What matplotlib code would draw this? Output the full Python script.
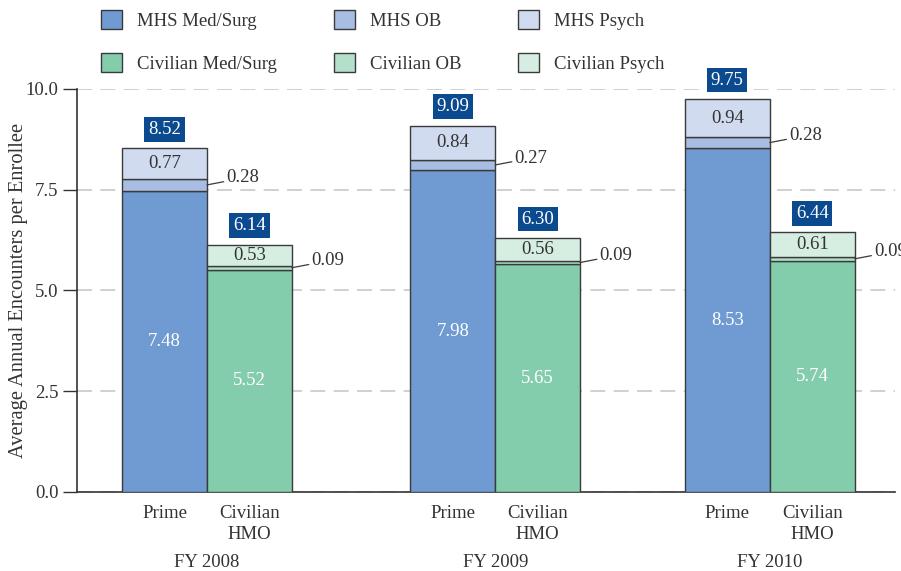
import numpy as np
import matplotlib
matplotlib.use('Agg')
import matplotlib.pyplot as plt
from matplotlib.patches import Patch

plt.rcParams['font.family'] = ['Liberation Serif', 'DejaVu Serif']

years = ['FY 2008', 'FY 2009', 'FY 2010']
mhs_medsurg = [7.48, 7.98, 8.53]
mhs_ob = [0.28, 0.27, 0.28]
mhs_psych = [0.77, 0.84, 0.94]
mhs_total = [8.52, 9.09, 9.75]
civ_medsurg = [5.52, 5.65, 5.74]
civ_ob = [0.09, 0.09, 0.09]
civ_psych = [0.53, 0.56, 0.61]
civ_total = [6.14, 6.30, 6.44]

mhs_colors = ['#6f9bd2', '#a8bde2', '#d0dbef']
civ_colors = ['#84cdac', '#b3e0ca', '#d6eee2']
box_color = '#0b4a8e'
txt = '#333333'
edge = '#3a3a3a'
fs = 13.5

fig = plt.figure(figsize=(9.01, 5.71), dpi=100)
ax = fig.add_axes([77 / 901, 1 - 492 / 571, 818 / 901, 403 / 571])

centers = np.array([1.53, 4.92, 8.15])
w = 1.0
prime_x = centers - 0.5
civ_x = centers + 0.5


def stack(x, med, ob, psych, total, colors):
    ax.bar(x, med, w, color=colors[0], edgecolor=edge, linewidth=1.0, zorder=3)
    ax.bar(x, ob, w, bottom=med, color=colors[1], edgecolor=edge, linewidth=1.0, zorder=3)
    bot2 = np.array(med) + np.array(ob)
    ax.bar(x, psych, w, bottom=bot2, color=colors[2], edgecolor=edge, linewidth=1.0, zorder=3)
    for i in range(len(x)):
        ax.text(x[i], med[i] / 2, f'{med[i]:.2f}', ha='center', va='center',
                color='white', fontsize=fs, zorder=5)
        ax.text(x[i], bot2[i] + psych[i] / 2, f'{psych[i]:.2f}', ha='center', va='center',
                color=txt, fontsize=fs, zorder=5)
        ax.annotate(f'{ob[i]:.2f}', xy=(x[i] + w / 2, med[i] + ob[i] / 2),
                    xytext=(14, 5), textcoords='offset points', ha='left', va='center',
                    color=txt, fontsize=fs,
                    arrowprops=dict(arrowstyle='-', color=edge, lw=0.9,
                                    shrinkA=0, shrinkB=0))
        ax.text(x[i], total[i] + 0.47, f'{total[i]:.2f}', ha='center', va='center',
                color='white', fontsize=fs, zorder=5,
                bbox=dict(boxstyle='square,pad=0.2', fc=box_color, ec='none'))


stack(prime_x, mhs_medsurg, mhs_ob, mhs_psych, mhs_total, mhs_colors)
stack(civ_x, civ_medsurg, civ_ob, civ_psych, civ_total, civ_colors)

ax.set_xlim(0, 818 / 85)
ax.set_ylim(0, 10)
ax.set_yticks([0, 2.5, 5, 7.5, 10])
ax.set_yticklabels(['0.0', '2.5', '5.0', '7.5', '10.0'])
ax.yaxis.grid(True, color='#c8c8c8', linestyle=(0, (9, 5)), linewidth=1.2, zorder=0)
ax.set_axisbelow(True)
ax.tick_params(axis='y', length=10, width=1, color=txt, labelsize=fs, labelcolor=txt)
ax.tick_params(axis='x', length=0, labelsize=fs, labelcolor=txt, pad=9)

xt = list(prime_x) + list(civ_x)
xl = ['Prime'] * 3 + ['Civilian\nHMO'] * 3
ax.set_xticks(xt)
ax.set_xticklabels(xl, linespacing=1.35, va='top')
for c, y in zip(centers, years):
    ax.text(c, -0.175, y, transform=ax.get_xaxis_transform(), ha='center', va='center',
            fontsize=fs, color=txt)

for s in ['top', 'right']:
    ax.spines[s].set_visible(False)
ax.spines['left'].set_color(txt)
ax.spines['bottom'].set_color(txt)
ax.spines['left'].set_linewidth(1.2)
ax.spines['bottom'].set_linewidth(1.2)

ax.set_ylabel('Average Annual Encounters per Enrollee', fontsize=14.8, color=txt)
ax.yaxis.set_label_coords(-0.06, 0.5)

names = ['MHS Med/Surg', 'MHS OB', 'MHS Psych',
         'Civilian Med/Surg', 'Civilian OB', 'Civilian Psych']
cols = mhs_colors + civ_colors
handles = [Patch(facecolor=c, edgecolor=edge, label=n) for c, n in zip(cols, names)]
order = [0, 3, 1, 4, 2, 5]
fig.legend([handles[i] for i in order], [names[i] for i in order], ncol=3,
           loc='upper left', bbox_to_anchor=(84 / 901, 1.012), frameon=False,
           fontsize=fs, handlelength=1.15, handleheight=1.15, handletextpad=0.8,
           columnspacing=3.0, labelspacing=1.25, labelcolor=txt)

fig.savefig('out.png', dpi=100)
